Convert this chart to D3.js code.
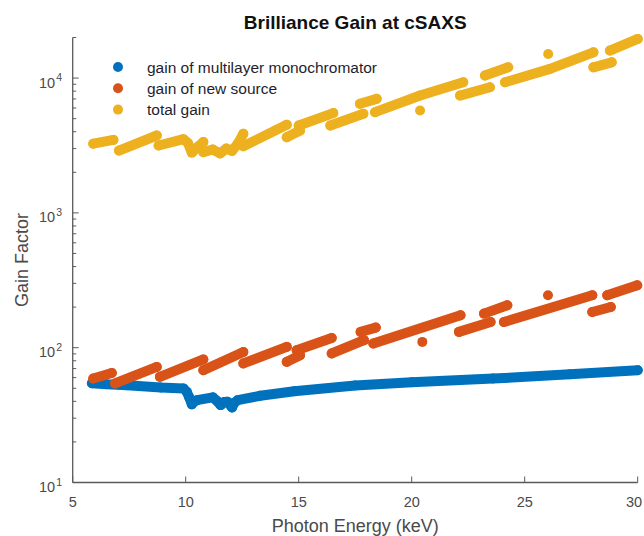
<!DOCTYPE html>
<html lang="en">
<head>
  <meta charset="UTF-8">
  <title>Brilliance Gain at cSAXS</title>
  <style>
    body { margin: 0; background: #fff; }
    text { font-family: "Liberation Sans", Arial, sans-serif; }
  </style>
</head>
<body>
  <script src="https://d3js.org/d3.v7.min.js"></script>
  <script>
    // Data: [photon energy keV, gain]
    let multilayerGain = [
      [5.85, 54.5], [6.5, 53.5], [7.4, 52.7], [8.9, 50.7], [9.9, 49.9],
      [10.05, 47], [10.15, 43], [10.27, 38], [10.35, 39.5], [10.5, 40.8],
      [11.2, 42.8], [11.4, 40], [11.55, 37.5], [11.7, 39.5], [11.85, 39.7],
      [12.05, 36], [12.15, 39], [12.3, 40.8], [13.3, 44], [14.8, 47.5],
      [17.5, 52.5], [20, 55.5], [23.6, 59], [27, 63.5], [30, 68]
    ];

    // source gain comes in separate pieces (harmonic switches)
    let sourceGain = [
      [[5.91, 59], [6.73, 65]],
      [[6.87, 54.3], [8.72, 72]],
      [[8.86, 60.8], [10.78, 81.8]],
      [[10.78, 68], [12.55, 93]],
      [[12.55, 76.4], [14.47, 101.4]],
      [[14.47, 78.5], [15.06, 88]],
      [[14.91, 95.8], [16.46, 118]],
      [[16.46, 90.6], [17.89, 113.6]],
      [[17.74, 131], [18.41, 141]],
      [[18.3, 107.4], [22.16, 174]],
      [[20.47, 110.4]],
      [[22.09, 131], [23.49, 155]],
      [[23.2, 179], [24.23, 206.6]],
      [[24.08, 155], [27.99, 244.8]],
      [[26.03, 244.8]],
      [[27.99, 184], [28.81, 200.5]],
      [[28.65, 244.8], [29.98, 290]]
    ];

    let totalGain = [
      [[5.91, 3260], [6.8, 3480]],
      [[7.05, 2900], [8.72, 3750]],
      [[8.8, 3160], [9.9, 3520], [10.1, 3300], [10.27, 2800], [10.5, 3050], [10.78, 3350]],
      [[10.78, 2820], [11.2, 2950], [11.52, 2760], [11.8, 3000], [12.05, 2880], [12.3, 3250], [12.55, 3860]],
      [[12.55, 3120], [14.47, 4500]],
      [[14.47, 3640], [15.06, 4080]],
      [[15.0, 4446], [16.53, 5500]],
      [[16.4, 4446], [17.86, 5430]],
      [[17.71, 6442], [18.45, 7015]],
      [[18.38, 5585], [20.37, 7419], [22.28, 9311]],
      [[20.37, 5745]],
      [[22.14, 7419], [23.46, 8551]],
      [[23.24, 10440], [24.27, 12020]],
      [[24.13, 9311], [26.12, 11700], [28.04, 15520]],
      [[26.04, 15100]],
      [[28.04, 12020], [28.85, 13090]],
      [[28.77, 16000], [30.0, 19500]]
    ];

    let seriesNames = ["gain of multilayer monochromator", "gain of new source", "total gain"];
    let seriesColors = ["#0072BD", "#D95319", "#EDB120"];
    let energyTicks = [5, 10, 15, 20, 25, 30];
    let gainTicks = [10, 100, 1000, 10000];

    let svgWidth = 644;
    let svgHeight = 536;
    let margin = { top: 37.5, right: 6.3, bottom: 53.5, left: 72.7 };

    let svg = d3.select("body")
      .append("svg")
      .attr("width", svgWidth)
      .attr("height", svgHeight);

    let x = d3.scaleLinear()
      .domain([5, 30])
      .range([margin.left, svgWidth - margin.right]);

    let y = d3.scaleLog()
      .domain([10, 2e4])
      .range([svgHeight - margin.bottom, margin.top]);

    let axisColor = "#5a5a5a";
    let labelColor = "#4a4a4a";

    // series, drawn in MATLAB order so the last lies on top
    let allSeries = [[multilayerGain], sourceGain, totalGain];
    let line = d3.line().x(d => x(d[0])).y(d => y(d[1]));

    allSeries.forEach((segments, i) => {
      let g = svg.append("g");
      g.selectAll("path")
        .data(segments.filter(s => s.length > 1))
        .join("path")
        .attr("d", line)
        .attr("fill", "none")
        .attr("stroke", seriesColors[i])
        .attr("stroke-width", 10)
        .attr("stroke-linecap", "round")
        .attr("stroke-linejoin", "round");
      g.selectAll("circle")
        .data(segments.flat())
        .join("circle")
        .attr("cx", d => x(d[0]))
        .attr("cy", d => y(d[1]))
        .attr("r", 5)
        .attr("fill", seriesColors[i]);
    });

    // axes (left + bottom, ticks pointing inside)
    let y0 = y.range()[0];
    let x0 = x.range()[0];

    svg.append("line")
      .attr("x1", x0).attr("x2", x.range()[1])
      .attr("y1", y0).attr("y2", y0)
      .attr("stroke", axisColor).attr("stroke-width", 1.3);
    svg.append("line")
      .attr("x1", x0).attr("x2", x0)
      .attr("y1", y0).attr("y2", y.range()[1])
      .attr("stroke", axisColor).attr("stroke-width", 1.3);

    svg.selectAll(".xtick")
      .data(energyTicks)
      .join("line")
      .attr("class", "xtick")
      .attr("x1", d => x(d)).attr("x2", d => x(d))
      .attr("y1", y0).attr("y2", y0 - 6)
      .attr("stroke", axisColor);

    // last label pulled in a little so it stays on the page
    svg.selectAll(".xlab")
      .data(energyTicks)
      .join("text")
      .attr("class", "xlab")
      .attr("x", d => Math.min(x(d), 634))
      .attr("y", y0 + 24)
      .attr("text-anchor", "middle")
      .attr("font-size", 14.5)
      .attr("fill", labelColor)
      .text(d => d);

    // log minor ticks 2..9 per decade
    let minorTicks = [];
    gainTicks.forEach(t => {
      for (let k = 2; k <= 9; k++) {
        if (t * k <= y.domain()[1]) minorTicks.push(t * k);
      }
    });

    svg.selectAll(".yminor")
      .data(minorTicks)
      .join("line")
      .attr("class", "yminor")
      .attr("x1", x0).attr("x2", x0 + 3.5)
      .attr("y1", d => y(d)).attr("y2", d => y(d))
      .attr("stroke", axisColor);

    svg.selectAll(".ytick")
      .data(gainTicks)
      .join("line")
      .attr("class", "ytick")
      .attr("x1", x0).attr("x2", x0 + 6)
      .attr("y1", d => y(d)).attr("y2", d => y(d))
      .attr("stroke", axisColor);

    let ylab = svg.selectAll(".ylab")
      .data(gainTicks)
      .join("text")
      .attr("class", "ylab")
      .attr("x", 62)
      .attr("y", d => y(d) + 9.5)
      .attr("text-anchor", "end")
      .attr("font-size", 14.5)
      .attr("fill", labelColor);
    ylab.append("tspan").text("10");
    ylab.append("tspan")
      .attr("dy", -6.5)
      .attr("dx", 1)
      .attr("font-size", 10.5)
      .text(d => Math.round(Math.log10(d)));

    // title and axis labels
    svg.append("text")
      .attr("x", (x.range()[0] + x.range()[1]) / 2)
      .attr("y", 29)
      .attr("text-anchor", "middle")
      .attr("font-size", 19)
      .attr("font-weight", "bold")
      .attr("fill", "#111")
      .text("Brilliance Gain at cSAXS");

    svg.append("text")
      .attr("x", (x.range()[0] + x.range()[1]) / 2)
      .attr("y", 532)
      .attr("text-anchor", "middle")
      .attr("font-size", 18)
      .attr("fill", labelColor)
      .text("Photon Energy (keV)");

    svg.append("text")
      .attr("transform", `translate(28, ${(y.range()[0] + y.range()[1]) / 2}) rotate(-90)`)
      .attr("text-anchor", "middle")
      .attr("font-size", 18)
      .attr("fill", labelColor)
      .text("Gain Factor");

    // legend
    let legend = svg.selectAll(".legend")
      .data(seriesNames)
      .join("g")
      .attr("class", "legend")
      .attr("transform", (d, i) => `translate(118, ${67 + i * 21.3})`);

    legend.append("circle")
      .attr("r", 5)
      .attr("fill", (d, i) => seriesColors[i]);

    legend.append("text")
      .attr("x", 29)
      .attr("y", 5.5)
      .attr("font-size", 15.5)
      .attr("fill", "#1e1e2e")
      .text(d => d);
  </script>
</body>
</html>
